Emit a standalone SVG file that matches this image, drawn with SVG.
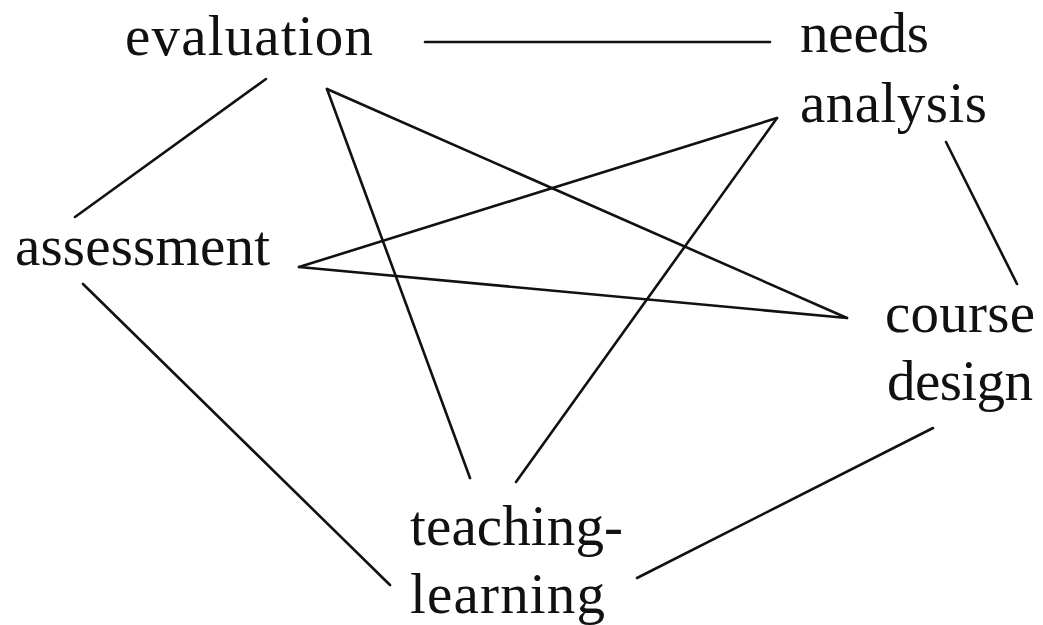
<svg xmlns="http://www.w3.org/2000/svg" width="1043" height="625" viewBox="0 0 1043 625">
<style>
text{font-family:"Liberation Serif","Times New Roman",serif;font-size:57px;fill:#111}
line{stroke:#111;stroke-width:2.6;stroke-linecap:round}
</style>
<rect width="1043" height="625" fill="#fff"/>
<g id="connectors">
<line x1="425" y1="42" x2="770" y2="42"/>
<line x1="266" y1="79" x2="75" y2="217"/>
<line x1="327" y1="89" x2="847" y2="318"/>
<line x1="327" y1="89" x2="470" y2="478"/>
<line x1="299" y1="267" x2="777" y2="118"/>
<line x1="299" y1="267" x2="847" y2="318"/>
<line x1="777" y1="118" x2="516" y2="482"/>
<line x1="946" y1="142" x2="1017" y2="284"/>
<line x1="83" y1="284" x2="390" y2="585"/>
<line x1="933" y1="428" x2="637" y2="578"/>
</g>
<g id="evaluation"><text x="125" y="55" textLength="248">evaluation</text></g>
<g id="needs-analysis"><text x="800" y="52" textLength="129">needs</text><text x="800" y="122" textLength="187">analysis</text></g>
<g id="assessment"><text x="15" y="265" textLength="255">assessment</text></g>
<g id="course-design"><text x="885" y="332" textLength="150">course</text><text x="887" y="400" textLength="146">design</text></g>
<g id="teaching-learning"><text x="410" y="545" textLength="213">teaching-</text><text x="410" y="613" textLength="195">learning</text></g>
</svg>
